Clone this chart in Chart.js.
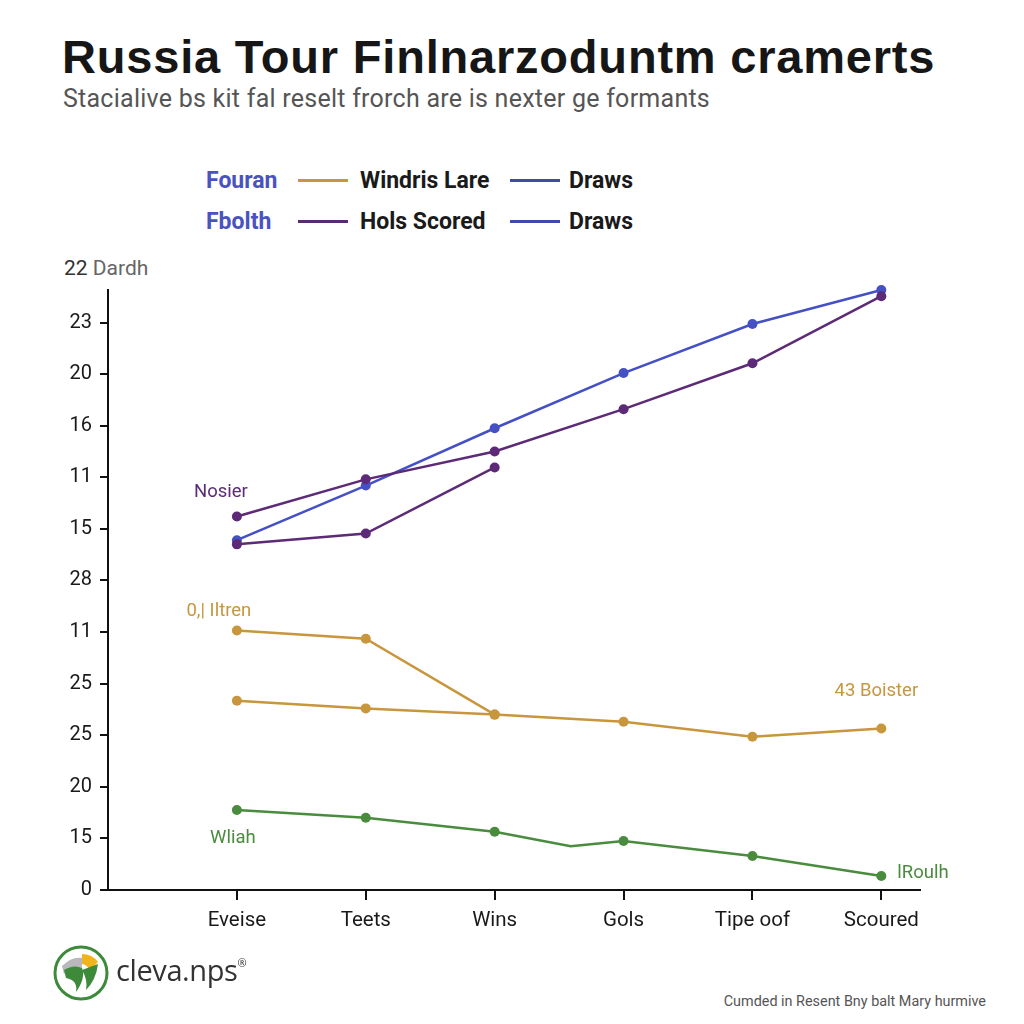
<!DOCTYPE html>
<html>
<head>
<meta charset="utf-8">
<script src="https://cdn.jsdelivr.net/npm/chart.js@4.4.1/dist/chart.umd.min.js"></script>
<style>
  html, body { margin: 0; padding: 0; background: #fff; }
  body { width: 1024px; height: 1024px; position: relative; overflow: hidden; font-family: Roboto, "Liberation Sans", sans-serif; }
  #title { position: absolute; left: 62px; top: 29px; font: bold 47px "Liberation Sans", Arial, sans-serif; color: #161616; letter-spacing: 0.8px; white-space: nowrap; }
  #subtitle { position: absolute; left: 63px; top: 84px; font: 25px Roboto, sans-serif; color: #555; letter-spacing: 0.25px; white-space: nowrap; }
  .legend-row { position: absolute; left: 206px; height: 30px; display: flex; align-items: center; font: bold 23px Roboto, sans-serif; color: #1a1a1a; white-space: nowrap; }
  .legend-row .grp { width: 92px; color: #4a52c0; }
  .legend-row .sw { width: 50px; height: 3px; margin-right: 12px; }
  .legend-row .sw.b { margin-right: 9px; }
  .legend-row .lbl { width: 150px; }
  #ytitle { position: absolute; left: 64px; top: 256px; font: 21px Roboto, sans-serif; color: #333; }
  #ytitle span { color: #666; }
  #chartWrap { position: absolute; left: 0; top: 281px; width: 1000px; height: 669px; }
  #logo { position: absolute; left: 52px; top: 944px; }
  #logotext { position: absolute; left: 116px; top: 950px; font: 29px "Open Sans", Roboto, sans-serif; color: #333; letter-spacing: -0.4px; }
  #logotext sup { font-size: 11px; vertical-align: 14px; }
  #footer { position: absolute; right: 38px; top: 993px; font: 14.4px Roboto, sans-serif; color: #555; }
</style>
</head>
<body>
<div id="title">Russia Tour Finlnarzoduntm cramerts</div>
<div id="subtitle">Stacialive bs kit fal reselt frorch are is nexter ge formants</div>

<div class="legend-row" style="top:165px">
  <span class="grp">Fouran</span>
  <span class="sw" style="background:#c8973c"></span><span class="lbl">Windris Lare</span>
  <span class="sw b" style="background:#3f4aae"></span><span>Draws</span>
</div>
<div class="legend-row" style="top:206px">
  <span class="grp">Fbolth</span>
  <span class="sw" style="background:#5a2a72"></span><span class="lbl">Hols Scored</span>
  <span class="sw b" style="background:#3f4aae"></span><span>Draws</span>
</div>

<div id="ytitle">22 <span>Dardh</span></div>
<div id="chartWrap"><canvas id="myChart"></canvas></div>

<svg id="logo" width="58" height="58" viewBox="0 0 58 58">
  <circle cx="29" cy="29" r="26" fill="#fff" stroke="#3c8a3a" stroke-width="3"/>
  <path d="M10 22 Q20 12 30 14 L30 24 Q20 22 12 30 Z" fill="#b9b9bd"/>
  <path d="M30 10 Q40 10 46 18 L38 26 Q34 20 30 20 Z" fill="#f0b51c"/>
  <path d="M12 26 Q22 20 30 24 Q34 34 24 48 Q26 36 14 34 Z" fill="#3c8a3a"/>
  <path d="M30 26 L46 20 Q44 36 34 46 Q36 36 30 26 Z" fill="#3c8a3a"/>
</svg>
<div id="logotext">cleva.nps<sup>®</sup></div>
<div id="footer">Cumded in Resent Bny balt Mary hurmive</div>

<script>
// categories along the bottom and the (odd) y tick labels, bottom to top
const categories = ['Eveise', 'Teets', 'Wins', 'Gols', 'Tipe oof', 'Scoured'];
const yTickLabels = ['0', '15', '20', '25', '25', '11', '28', '15', '11', '16', '20', '23'];

// series values (in y-tick steps)
const drawsValues = [6.78, 7.84, 8.95, 10.02, 10.97, 11.63];
const holsScoredValues = [7.24, 7.96, 8.50, 9.32, 10.21, 11.51];
const holsScoredShort = [6.70, 6.91, 8.19];
const windrisUpper = [5.03, 4.87, 3.40];
const windrisLower = [3.67, 3.52, 3.40, 3.26, 2.97, 3.13];
const greenX = [0, 1, 2, 2.59, 3, 4, 5];
const greenValues = [1.55, 1.40, 1.13, 0.85, 0.95, 0.66, 0.27];

const BLUE = '#4450c4', PURPLE = '#5c2a76', GOLD = '#c8963c', GREEN = '#4a8c3e';

function pts(vals, xs) {
  return vals.map((v, i) => ({ x: xs ? xs[i] : i, y: v }));
}

function line(label, data, color, radius) {
  return {
    label, data,
    borderColor: color, backgroundColor: color,
    borderWidth: 2.5, pointRadius: radius || 5, pointHoverRadius: 5,
    pointBorderWidth: 0, tension: 0, clip: false
  };
}

const greenDs = line('Wliah', pts(greenValues, greenX), GREEN);
greenDs.pointRadius = greenX.map(x => Number.isInteger(x) ? 5 : 0);

const datasets = [
  line('Windris Lare', pts(windrisLower), GOLD),
  line('Windris Lare 2', pts(windrisUpper), GOLD),
  greenDs,
  line('Hols Scored 2', pts(holsScoredShort), PURPLE),
  line('Hols Scored', pts(holsScoredValues), PURPLE),
  line('Draws', pts(drawsValues), BLUE)
];

// text notes placed next to a series point
const notes = [
  { text: 'Nosier', ds: 4, i: 0, dx: -16, dy: -24, color: PURPLE, align: 'center' },
  { text: '0,| Iltren', ds: 1, i: 0, dx: -18, dy: -19, color: GOLD, align: 'center' },
  { text: 'Wliah', ds: 2, i: 0, dx: -4, dy: 28, color: GREEN, align: 'center' },
  { text: 'Winn', ds: 5, i: 5, dx: 2, dy: -32, color: '#1a1a1a', align: 'center' },
  { text: '43 Boister', ds: 0, i: 5, dx: -5, dy: -37, color: GOLD, align: 'center' },
  { text: 'lRoulh', ds: 2, i: 6, dx: 16, dy: -3, color: GREEN, align: 'left' }
];

const notePlugin = {
  id: 'notes',
  afterDatasetsDraw(chart) {
    const { ctx, scales } = chart;
    ctx.save();
    ctx.font = '18.5px Roboto, sans-serif';
    ctx.textBaseline = 'middle';
    notes.forEach(n => {
      const p = chart.data.datasets[n.ds].data[n.i];
      ctx.fillStyle = n.color;
      ctx.textAlign = n.align;
      ctx.fillText(n.text, scales.x.getPixelForValue(p.x) + n.dx, scales.y.getPixelForValue(p.y) + n.dy);
    });
    ctx.restore();
  }
};

const ctx = document.getElementById('myChart').getContext('2d');
new Chart(ctx, {
  type: 'line',
  data: { datasets },
  plugins: [notePlugin],
  options: {
    responsive: true,
    maintainAspectRatio: false,
    animation: false,
    layout: { padding: { top: 9, right: 80, left: 0, bottom: 0 } },
    plugins: { legend: { display: false }, tooltip: { enabled: false } },
    scales: {
      x: {
        type: 'linear', min: -1, max: 5.3,
        afterBuildTicks: s => { s.ticks = categories.map((c, i) => ({ value: i })); },
        afterFit: s => { s.height = 60; s.paddingLeft = 0; s.paddingRight = 0; },
        border: { color: '#111', width: 2 },
        grid: { drawOnChartArea: false, drawTicks: true, tickLength: 10, color: '#111', lineWidth: 2 },
        ticks: {
          color: '#1a1a1a', font: { size: 20.5, family: 'Roboto' }, padding: 9,
          callback: v => categories[v] ?? ''
        }
      },
      y: {
        type: 'linear', min: 0, max: 11.63,
        afterBuildTicks: s => { s.ticks = yTickLabels.map((t, i) => ({ value: i })); },
        afterFit: s => { s.width = 108; s.paddingTop = 0; s.paddingBottom = 0; },
        border: { color: '#111', width: 2 },
        grid: { drawOnChartArea: false, drawTicks: true, tickLength: 8, color: '#111', lineWidth: 2 },
        ticks: {
          color: '#1a1a1a', font: { size: 20, family: 'Roboto' }, padding: 8,
          callback: v => yTickLabels[v] ?? ''
        }
      }
    }
  }
});
</script>
</body>
</html>
